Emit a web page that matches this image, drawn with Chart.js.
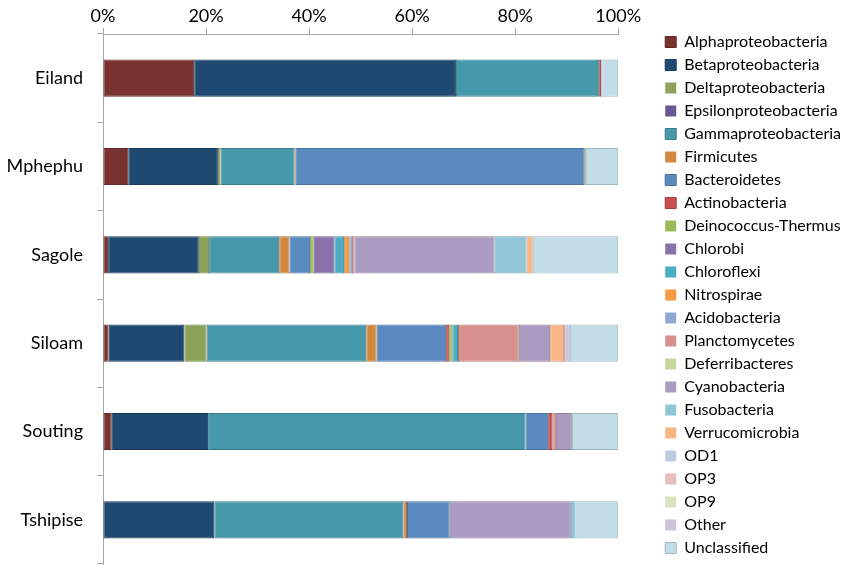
<!DOCTYPE html>
<html>
<head>
<meta charset="utf-8">
<script src="https://cdn.jsdelivr.net/npm/chart.js@4"></script>
<style>
html,body{margin:0;padding:0;background:#fff;}
#wrap{width:850px;height:566px;}
</style>
</head>
<body>
<div id="wrap"><canvas id="c" width="850" height="566"></canvas></div>
<script>
const sites = ["Eiland","Mphephu","Sagole","Siloam","Souting","Tshipise"];
const xTicks = [0,20,40,60,80,100];

const Alphaproteobacteria   = [17.7, 4.9, 1.0, 1.1, 1.7, 0.1];
const Betaproteobacteria    = [50.8, 17.4, 17.6, 14.7, 18.7, 21.5];
const Deltaproteobacteria   = [0, 0.5, 2.0, 4.3, 0, 0];
const Epsilonproteobacteria = [0, 0, 0, 0, 0, 0];
const Gammaproteobacteria   = [27.6, 14.4, 13.6, 31.0, 61.6, 36.7];
const Firmicutes            = [0, 0.2, 2.0, 2.0, 0, 0.7];
const Bacteroidetes         = [0.2, 56.1, 4.0, 13.5, 4.4, 8.3];
const Actinobacteria        = [0.4, 0, 0, 0.6, 0.8, 0];
const DeinococcusThermus    = [0, 0.2, 0.7, 0.6, 0, 0];
const Chlorobi              = [0, 0, 4.0, 0, 0, 0];
const Chloroflexi           = [0, 0, 1.9, 1.1, 0, 0];
const Nitrospirae           = [0, 0, 1.0, 0, 0, 0];
const Acidobacteria         = [0, 0, 0.5, 0, 0, 0];
const Planctomycetes        = [0, 0, 0.5, 11.8, 0.7, 0];
const Deferribacteres       = [0, 0, 0, 0, 0, 0];
const Cyanobacteria         = [0, 0, 27.2, 6.1, 3.1, 23.5];
const Fusobacteria          = [0, 0, 6.2, 0, 0, 0.9];
const Verrucomicrobia       = [0, 0, 1.2, 2.7, 0, 0];
const OD1                   = [0, 0, 0, 0, 0, 0];
const OP3                   = [0, 0, 0, 0, 0, 0];
const OP9                   = [0, 0, 0, 0, 0, 0];
const Other                 = [0, 0, 0, 1.1, 0, 0];
const Unclassified          = [3.3, 6.3, 16.6, 9.4, 9.0, 8.3];

const series = [
  ["Alphaproteobacteria", Alphaproteobacteria, "#79332f"],
  ["Betaproteobacteria", Betaproteobacteria, "#1f4971"],
  ["Deltaproteobacteria", Deltaproteobacteria, "#8ca258"],
  ["Epsilonproteobacteria", Epsilonproteobacteria, "#6a5690"],
  ["Gammaproteobacteria", Gammaproteobacteria, "#4699aa"],
  ["Firmicutes", Firmicutes, "#d2883f"],
  ["Bacteroidetes", Bacteroidetes, "#5a8abf"],
  ["Actinobacteria", Actinobacteria, "#c9504f"],
  ["Deinococcus-Thermus", DeinococcusThermus, "#9bbb59"],
  ["Chlorobi", Chlorobi, "#8a72aa"],
  ["Chloroflexi", Chloroflexi, "#4bacc6"],
  ["Nitrospirae", Nitrospirae, "#f59a43"],
  ["Acidobacteria", Acidobacteria, "#8ea9d6"],
  ["Planctomycetes", Planctomycetes, "#d99190"],
  ["Deferribacteres", Deferribacteres, "#c3d69b"],
  ["Cyanobacteria", Cyanobacteria, "#ab9bc1"],
  ["Fusobacteria", Fusobacteria, "#8fc7d8"],
  ["Verrucomicrobia", Verrucomicrobia, "#fab587"],
  ["OD1", OD1, "#bccbe2"],
  ["OP3", OP3, "#e8bebd"],
  ["OP9", OP9, "#d8e4c0"],
  ["Other", Other, "#cdc3db"],
  ["Unclassified", Unclassified, "#c2dde7"]
];

function darker(hex, f){
  const n = parseInt(hex.slice(1),16);
  const r = Math.round(((n>>16)&255)*f), g = Math.round(((n>>8)&255)*f), b = Math.round((n&255)*f);
  return "rgb("+r+","+g+","+b+")";
}

const datasets = series.map(s => ({
  label: s[0],
  data: s[1],
  backgroundColor: s[2],
  borderColor: darker(s[2], 0.82),
  borderWidth: ctx => (ctx.raw > 0 ? 1 : 0),
  borderSkipped: false,
  categoryPercentage: 1,
  barPercentage: 0.42
}));

const FONT = "Lato, 'Open Sans', sans-serif";
const LEGEND_GAP = 37;
const LEGEND_XSHIFT = 40;
const LEGEND_SHIFT = 22;

const legendGap = {
  id: "legendGap",
  beforeLayout(chart) {
    const lg = chart.legend;
    if (lg && !lg._gapWrapped) {
      const origFit = lg.fit;
      lg.fit = function () { origFit.call(this); this.width += LEGEND_GAP; };
      lg._gapWrapped = true;
    }
  },
  afterLayout(chart) {
    const lg = chart.legend;
    if (lg) { lg.left += LEGEND_XSHIFT; lg.top += LEGEND_SHIFT; }
  }
};

new Chart(document.getElementById("c"), {
  type: "bar",
  data: { labels: sites, datasets },
  plugins: [legendGap],
  options: {
    indexAxis: "y",
    responsive: false,
    animation: false,
    layout: { padding: { left: 4, right: 2, top: 4, bottom: 2 } },
    scales: {
      x: {
        position: "top",
        stacked: true,
        min: 0, max: 100,
        afterBuildTicks: axis => { axis.ticks = xTicks.map(v => ({ value: v })); },
        afterFit: s => { s.height = 30; },
        ticks: { callback: v => v + "%", color: "#000", font: { family: FONT, size: 18 }, padding: 1 },
        grid: { drawOnChartArea: false, tickLength: 6, color: "#a6a6a6" },
        border: { color: "#a6a6a6" }
      },
      y: {
        stacked: true,
        afterFit: s => { s.width = 99; s.paddingTop = 0; s.paddingBottom = 0; },
        ticks: { color: "#000", font: { family: FONT, size: 18 }, padding: 14 },
        grid: { drawOnChartArea: false, tickLength: 6, color: "#a6a6a6", offset: true },
        border: { color: "#a6a6a6" }
      }
    },
    plugins: {
      legend: {
        position: "right",
        labels: {
          boxWidth: 11, boxHeight: 11, padding: 7,
          color: "#000",
          font: { family: FONT, size: 16 }
        }
      },
      tooltip: { enabled: false }
    }
  }
});
</script>
</body>
</html>
